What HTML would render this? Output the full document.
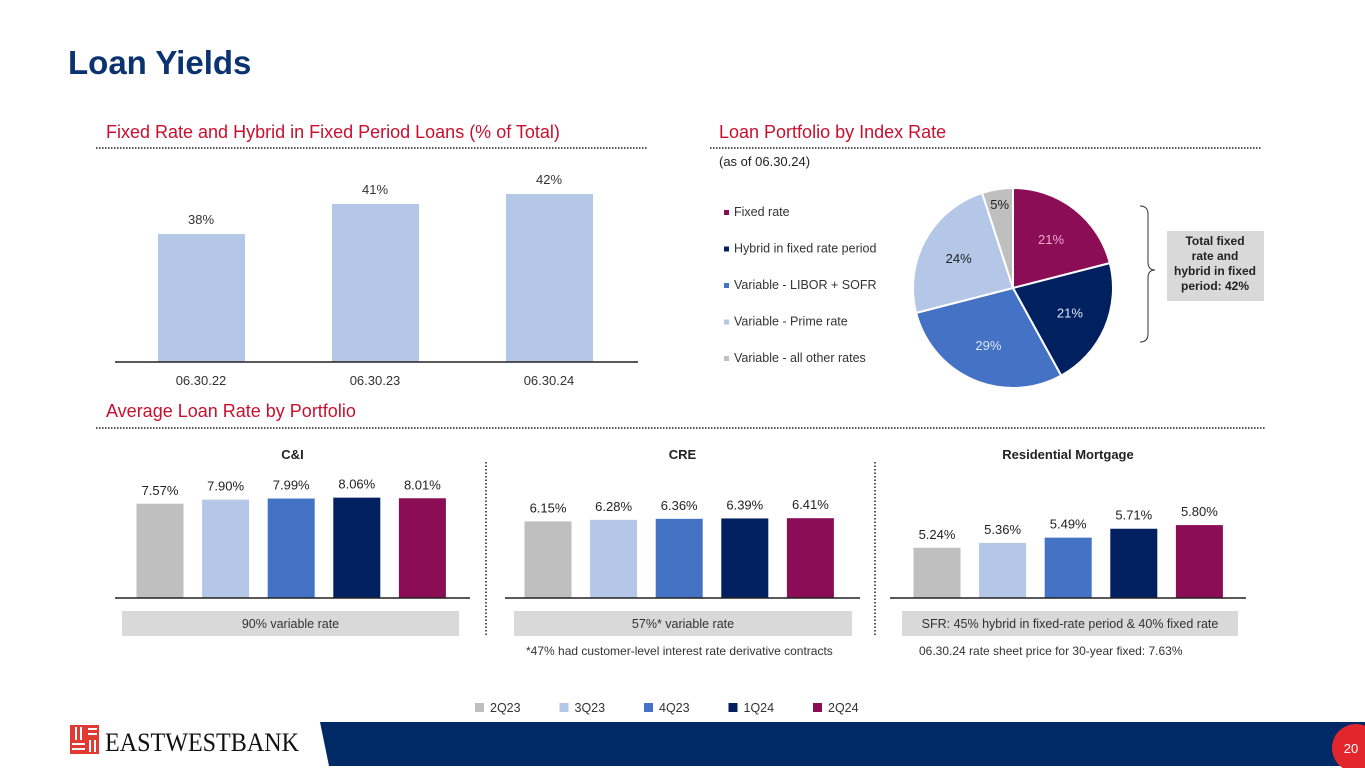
<!DOCTYPE html>
<html><head><meta charset="utf-8"><style>
body{margin:0;width:1365px;height:768px;overflow:hidden;background:#fff;font-family:"Liberation Sans",Arial,sans-serif}
svg{display:block}
</style></head><body>
<svg id="s" width="1365" height="768" xmlns="http://www.w3.org/2000/svg" font-family="Liberation Sans, Arial, sans-serif">
<text x="68" y="74" font-size="33" font-weight="bold" fill="#0a3370">Loan Yields</text>
<text x="106" y="138" font-size="18" fill="#c8102e">Fixed Rate and Hybrid in Fixed Period Loans (% of Total)</text>
<line x1="96" y1="148" x2="648" y2="148" stroke="#555" stroke-width="2" stroke-dasharray="1.5 1.5"/>
<text x="719" y="138" font-size="18" fill="#c8102e">Loan Portfolio by Index Rate</text>
<line x1="710" y1="148" x2="1262" y2="148" stroke="#555" stroke-width="2" stroke-dasharray="1.5 1.5"/>
<text x="719" y="166" font-size="13" fill="#222">(as of 06.30.24)</text>
<text x="106" y="417" font-size="18" fill="#c8102e">Average Loan Rate by Portfolio</text>
<line x1="96" y1="428" x2="1265" y2="428" stroke="#555" stroke-width="2" stroke-dasharray="1.5 1.5"/>
<g id="topbars"></g><g id="pie"></g><g id="small"></g>
<path d="M1140 206 Q1148 206 1148 214 L1148 262 Q1148 270 1155 270 Q1148 270 1148 278 L1148 334 Q1148 342 1140 342" fill="none" stroke="#333" stroke-width="1"/>
<rect x="1167" y="231" width="97" height="70" fill="#d9d9d9"/>
<g font-size="12" font-weight="bold" fill="#222" text-anchor="middle">
<text x="1215" y="245">Total fixed</text><text x="1215" y="260">rate and</text><text x="1215" y="275">hybrid in fixed</text><text x="1215" y="290">period: 42%</text></g>
<line x1="486" y1="462" x2="486" y2="635" stroke="#555" stroke-width="2" stroke-dasharray="1.5 2"/>
<line x1="875" y1="462" x2="875" y2="635" stroke="#555" stroke-width="2" stroke-dasharray="1.5 2"/>
<g font-size="12" fill="#333">
<text x="526" y="655">*47% had customer-level interest rate derivative contracts</text>
<text x="919" y="655">06.30.24 rate sheet price for 30-year fixed: 7.63%</text></g>
<g id="legend"></g>
<g>
<rect x="70" y="725" width="29" height="29" fill="#e03a32"/>
<g stroke="#fff" stroke-width="2"><line x1="76" y1="727" x2="76" y2="740"/><line x1="81" y1="727" x2="81" y2="740"/><line x1="72" y1="744" x2="85" y2="744"/><line x1="72" y1="749" x2="85" y2="749"/><line x1="88" y1="729" x2="97" y2="729"/><line x1="88" y1="734" x2="97" y2="734"/><line x1="90" y1="740" x2="90" y2="752"/><line x1="95" y1="740" x2="95" y2="752"/></g>
<text x="105" y="751" font-family="Liberation Serif, serif" font-size="26" fill="#111" textLength="194" lengthAdjust="spacingAndGlyphs">EASTWESTBANK</text></g>
<path d="M320 722 L1365 722 L1365 766 L329 766 Z" fill="#002a66"/>
<circle cx="1356" cy="748" r="24" fill="#e3262b"/>
<text x="1351" y="753" font-size="13" fill="#fff" text-anchor="middle">20</text>
</svg>
<script>
const NS="http://www.w3.org/2000/svg";
const topCats=["06.30.22","06.30.23","06.30.24"];
const topVals=[38,41,42];
const pieCats=["Fixed rate","Hybrid in fixed rate period","Variable - LIBOR + SOFR","Variable - Prime rate","Variable - all other rates"];
const pieVals=[21,21,29,24,5];
const quarters=["2Q23","3Q23","4Q23","1Q24","2Q24"];
const ciVals=[7.57,7.90,7.99,8.06,8.01];
const creVals=[6.15,6.28,6.36,6.39,6.41];
const resVals=[5.24,5.36,5.49,5.71,5.80];
const colors=["#bfbfbf","#b4c7e7","#4472c4","#002060","#8b0d55"];
const pieColors=["#8b0d55","#002060","#4472c4","#b4c7e7","#bfbfbf"];
function mk(tag,attrs,parent,text){const e=document.createElementNS(NS,tag);for(const k in attrs)e.setAttribute(k,attrs[k]);if(text!==undefined)e.textContent=text;parent.appendChild(e);return e;}
const topG=document.getElementById('topbars');
const tBase=362,tMin=25.2,tScale=10;
const ty=v=>tBase-(v-tMin)*tScale;
const tx=i=>201+i*174;
topVals.forEach((v,i)=>{
 const r=mk('rect',{x:tx(i)-43,y:ty(v),width:87,height:tBase-ty(v),fill:"#b4c7e7"},topG);
 
 
 const t=mk('text',{x:tx(i),y:ty(v)-10,'font-size':13,fill:'#333','text-anchor':'middle'},topG,v+'%');
 
 
 const c=mk('text',{x:tx(i),y:385,'font-size':13,fill:'#333','text-anchor':'middle'},topG,topCats[i]);
 
 
});
mk('line',{x1:115,y1:tBase,x2:638,y2:tBase,stroke:'#222','stroke-width':1.5},topG);
const pie=document.getElementById('pie');
const cx=1013,cy=288,R=100;
const total=pieVals.reduce((a,b)=>a+b,0);
let acc=0;
pieVals.forEach((v,i)=>{
 const a0=acc/total*2*Math.PI;acc+=v;const a1=acc/total*2*Math.PI;
 const p=a=>[cx+R*Math.sin(a),cy-R*Math.cos(a)];
 const [x0,y0]=p(a0),[x1,y1]=p(a1);
 const s=mk('path',{d:`M${cx} ${cy} L${x0} ${y0} A${R} ${R} 0 ${a1-a0>Math.PI?1:0} 1 ${x1} ${y1} Z`,fill:pieColors[i],stroke:'#fff','stroke-width':2},pie);
 
 
 const am=(a0+a1)/2,lr=v<10?R*0.85:R*0.62;
 const lt=mk('text',{x:cx+lr*Math.sin(am),y:cy-lr*Math.cos(am)+5,'font-size':13,fill:(i==3||i==4)?'#222':(i==0?'#f2a8cf':'#dce6f5'),'text-anchor':'middle'},pie,v+'%');
 
 
 const ly=215+i*36.5;
 mk('rect',{x:724,y:ly-5,width:5,height:5,fill:pieColors[i]},pie);
 const le=mk('text',{x:734,y:ly+1,'font-size':12.5,fill:'#333'},pie,pieCats[i]);
 
 
});
const small=document.getElementById('small');
const panels=[
 {name:'C&I',vals:ciVals,x0:160,ax:[115,470],box:[122,459],label:'90% variable rate',min:0,scale:12.45},
 {name:'CRE',vals:creVals,x0:548,ax:[505,860],box:[514,852],label:'57%* variable rate',min:0,scale:12.45},
 {name:'Residential Mortgage',vals:resVals,x0:937,ax:[890,1246],box:[902,1238],label:'SFR: 45% hybrid in fixed-rate period & 40% fixed rate',min:4.0,scale:40.5}
];
const sBase=598;
panels.forEach(pn=>{
 const y=v=>sBase-(v-pn.min)*pn.scale;
 const x=i=>pn.x0+i*65.6;
 const mid=(pn.ax[0]+pn.ax[1])/2;
 const tt=mk('text',{x:mid,y:459,'font-size':13,'font-weight':'bold',fill:'#222','text-anchor':'middle'},small,pn.name);
 
 
 pn.vals.forEach((v,i)=>{
  const r=mk('rect',{x:x(i)-23.5,y:y(v),width:47,height:sBase-y(v),fill:colors[i]},small);
  
  
  const t=mk('text',{x:x(i),y:y(v)-9,'font-size':13,fill:'#222','text-anchor':'middle'},small,v.toFixed(2)+'%');
  
  
 });
 mk('line',{x1:pn.ax[0],y1:sBase,x2:pn.ax[1],y2:sBase,stroke:'#222','stroke-width':1.5},small);
 mk('rect',{x:pn.box[0],y:611,width:pn.box[1]-pn.box[0],height:25,fill:'#d9d9d9'},small);
 const bl=mk('text',{x:(pn.box[0]+pn.box[1])/2,y:628,'font-size':12.5,fill:'#333','text-anchor':'middle'},small,pn.label);
 
 
});
const lg=document.getElementById('legend');
quarters.forEach((q,i)=>{
 const lx=475+i*84.5;
 mk('rect',{x:lx,y:703,width:9,height:9,fill:colors[i]},lg);
 const t=mk('text',{x:lx+15,y:712,'font-size':12.5,fill:'#333'},lg,q);
 
 
});
</script>
</body></html>
